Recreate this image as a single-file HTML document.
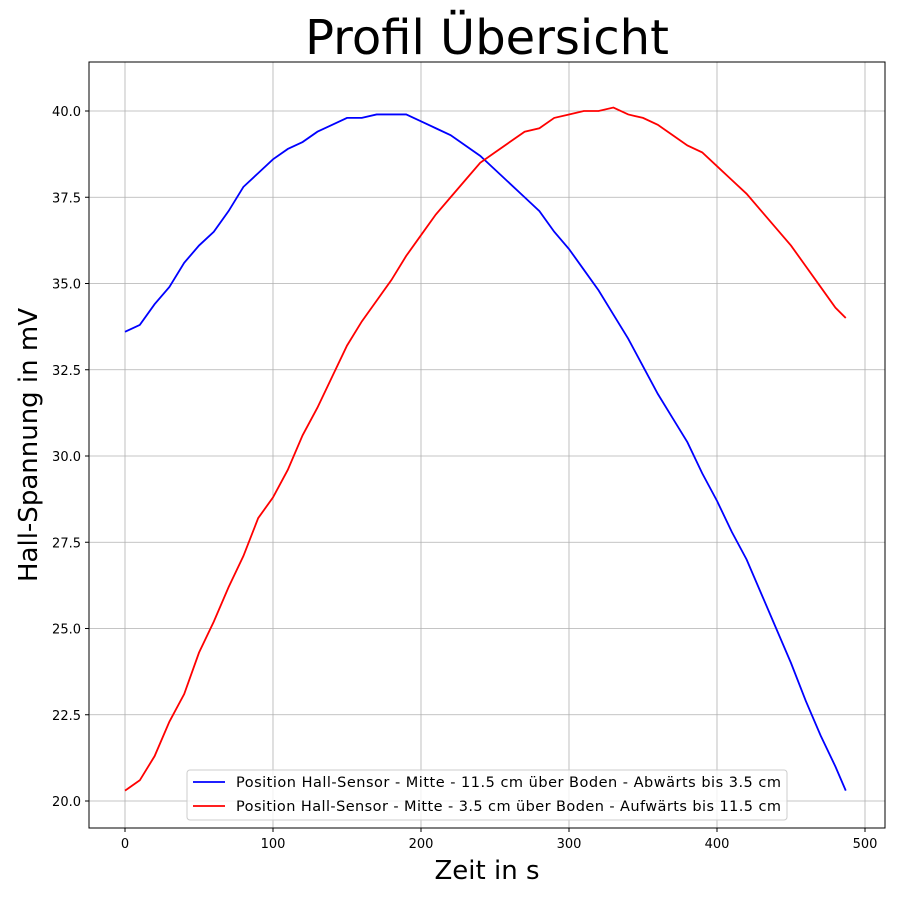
<!DOCTYPE html>
<html><head><meta charset="utf-8"><style>body{margin:0;background:#fff}svg{font-family:"DejaVu Sans","Liberation Sans",sans-serif}</style></head>
<body>
<svg id="chart" width="900" height="900"></svg>
<script>
const xs=[0,10,20,30,40,50,60,70,80,90,100,110,120,130,140,150,160,170,180,190,200,210,220,230,240,250,260,270,280,290,300,310,320,330,340,350,360,370,380,390,400,410,420,430,440,450,460,470,480,487];
const blueVals=[33.6,33.8,34.4,34.9,35.6,36.1,36.5,37.1,37.8,38.2,38.6,38.9,39.1,39.4,39.6,39.8,39.8,39.9,39.9,39.9,39.7,39.5,39.3,39.0,38.7,38.3,37.9,37.5,37.1,36.5,36.0,35.4,34.8,34.1,33.4,32.6,31.8,31.1,30.4,29.5,28.7,27.8,27.0,26.0,25.0,24.0,22.9,21.9,21.0,20.3];
const redVals=[20.3,20.6,21.3,22.3,23.1,24.3,25.2,26.2,27.1,28.2,28.8,29.6,30.6,31.4,32.3,33.2,33.9,34.5,35.1,35.8,36.4,37.0,37.5,38.0,38.5,38.8,39.1,39.4,39.5,39.8,39.9,40.0,40.0,40.1,39.9,39.8,39.6,39.3,39.0,38.8,38.4,38.0,37.6,37.1,36.6,36.1,35.5,34.9,34.3,34.0];
const xTicks=[0,100,200,300,400,500];
const yTicks=[20.0,22.5,25.0,27.5,30.0,32.5,35.0,37.5,40.0];
const L=89,R=885,T=62,B=828;
const X=v=>125+v*1.48, Y=v=>801-(v-20)*34.5;
const svg=document.getElementById('chart');const NS='http://www.w3.org/2000/svg';
function mk(t,a,p){const e=document.createElementNS(NS,t);for(const k in a)e.setAttribute(k,a[k]);(p||svg).appendChild(e);return e;}
xTicks.forEach(t=>{const g=mk('line',{x1:X(t),x2:X(t),y1:T,y2:B,stroke:'#b0b0b0','stroke-width':0.8});


mk('line',{x1:X(t),x2:X(t),y1:B,y2:B+4,stroke:'#000'});
const l=mk('text',{x:X(t),y:B+20,'text-anchor':'middle','font-size':13});l.textContent=t;

});
yTicks.forEach(t=>{const g=mk('line',{x1:L,x2:R,y1:Y(t),y2:Y(t),stroke:'#b0b0b0','stroke-width':0.8});


mk('line',{x1:L-4,x2:L,y1:Y(t),y2:Y(t),stroke:'#000'});
const l=mk('text',{x:L-8,y:Y(t)+5,'text-anchor':'end','font-size':13});l.textContent=t.toFixed(1);

});
function line(vals,c,n){const p=mk('polyline',{points:xs.map((x,i)=>X(x)+','+Y(vals[i])).join(' '),fill:'none',stroke:c,'stroke-width':1.8});

}
line(blueVals,'#0000ff','series-abwaerts');
line(redVals,'#ff0000','series-aufwaerts');
const f=mk('rect',{x:L,y:T,width:R-L,height:B-T,fill:'none',stroke:'#000','stroke-width':1});


</script>
<svg style="position:absolute;left:0;top:0" width="900" height="900">
<text x="487" y="54" text-anchor="middle" font-size="48">Profil Übersicht</text>
<text x="487" y="879" text-anchor="middle" font-size="26">Zeit in s</text>
<text transform="translate(37,445) rotate(-90)" text-anchor="middle" font-size="26">Hall-Spannung in mV</text>
<g>
<rect x="187" y="770" width="600" height="50" rx="3" fill="#fff" fill-opacity="0.8" stroke="#ccc"/>
<line x1="193" x2="225" y1="782" y2="782" stroke="#0000ff" stroke-width="1.8"/>
<text x="236" y="787" font-size="14.5" textLength="545">Position Hall-Sensor - Mitte - 11.5 cm über Boden - Abwärts bis 3.5 cm</text>
<line x1="193" x2="225" y1="806" y2="806" stroke="#ff0000" stroke-width="1.8"/>
<text x="236" y="811" font-size="14.5" textLength="545">Position Hall-Sensor - Mitte - 3.5 cm über Boden - Aufwärts bis 11.5 cm</text>
</g>
</svg>
</body></html>
